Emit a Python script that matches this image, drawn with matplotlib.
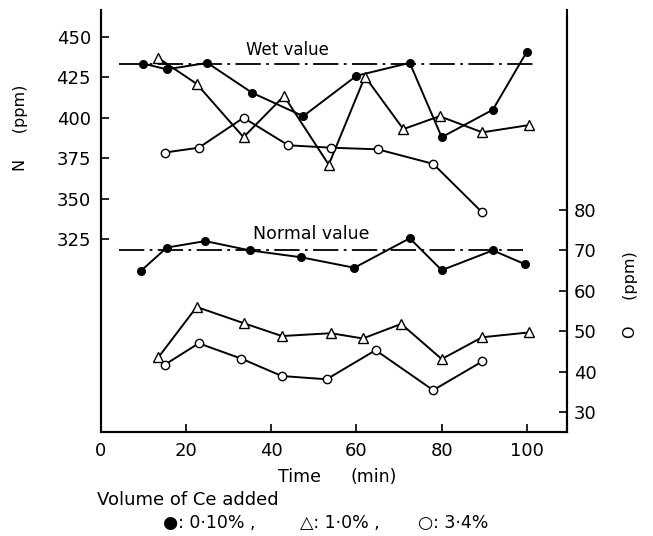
import matplotlib
matplotlib.use("Agg")
import matplotlib.pyplot as plt

# N (ppm), left axis
t_n_010 = [10, 15.5, 25, 35.5, 47.5, 60, 72.5, 80, 92, 100]
n_010 = [433.5, 430, 434, 415.5, 401, 426, 434, 388, 405, 441]
t_n_10 = [13.5, 22.5, 33.5, 43, 53.5, 62, 71, 79.5, 89.5, 100.5]
n_10 = [437, 421, 388, 413.5, 371, 425.5, 393, 401, 391, 395.5]
t_n_34 = [15, 23, 33.5, 44, 54, 65, 78, 89.5]
n_34 = [378.5, 381.5, 400, 383, 381.5, 380.5, 371.5, 341.5]

# O (ppm), right axis
t_o_010 = [9.5, 15.5, 24.5, 35, 47, 59.5, 72.5, 80, 92, 99.5]
o_010 = [65, 70.7, 72.3, 70, 68.3, 65.7, 73, 65.1, 70, 66.6]
t_o_10 = [13.5, 22.5, 33.5, 42.5, 54, 61.5, 70.5, 80, 89.5, 100.5]
o_10 = [43.5, 56, 52, 48.8, 49.5, 48.2, 51.8, 43.1, 48.5, 49.7]
t_o_34 = [15, 23, 33, 42.5, 53, 64.5, 78, 89.5]
o_34 = [41.7, 47, 43.2, 38.9, 38.1, 45.3, 35.4, 42.5]

wet_value = 433.3
normal_value = 70
x_ticks = [0, 20, 40, 60, 80, 100]
n_ticks = [325, 350, 375, 400, 425, 450]
o_ticks = [30, 40, 50, 60, 70, 80]

plt.rcParams['font.family'] = ['DejaVu Sans']
fig = plt.figure(figsize=(6.53, 5.36), dpi=100)
ax = fig.add_axes([100.75/653, 1-432/536, (567-100.75)/653, 422/536])
ax2 = ax.twinx()

ax.set_xlim(0, 109.4)
ax.set_ylim(205.6, 466.7)
ax2.set_ylim(25.05, 129.5)

lw = 1.4
ax.plot(t_n_010, n_010, '-o', color='black', lw=lw, ms=5.5, mfc='black')
ax.plot(t_n_10, n_10, '-^', color='black', lw=lw, ms=6.5, mfc='white', mew=1.0)
ax.plot(t_n_34, n_34, '-o', color='black', lw=lw, ms=6, mfc='white', mew=1.0)
ax2.plot(t_o_010, o_010, '-o', color='black', lw=lw, ms=5.5, mfc='black')
ax2.plot(t_o_10, o_10, '-^', color='black', lw=lw, ms=6.5, mfc='white', mew=1.0)
ax2.plot(t_o_34, o_34, '-o', color='black', lw=lw, ms=6, mfc='white', mew=1.0)

ax.plot([4.3, 101.9], [wet_value, wet_value], color='black', lw=1.3,
        linestyle=(0, (14, 3, 1.5, 3)), zorder=1)
ax2.plot([4.3, 99], [normal_value, normal_value], color='black', lw=1.3,
         linestyle=(0, (14, 3, 1.5, 3)), zorder=1)
ax.text(34.1, 442, 'Wet value', fontsize=12, va='center')
ax2.text(35.8, 74, 'Normal value', fontsize=12.5, va='center')

ax.set_xticks(x_ticks)
ax.set_yticks(n_ticks)
ax2.set_yticks(o_ticks)
for a in (ax, ax2):
    a.tick_params(direction='in', length=6, width=1.2, labelsize=13)
    a.spines['top'].set_visible(False)
    for s in a.spines.values():
        s.set_linewidth(1.5)
ax.tick_params(axis='x', pad=7)
ax.tick_params(axis='y', pad=7)
ax2.tick_params(axis='y', pad=5)
ax2.spines['right'].set_bounds(25.05, 127.8)

fig.text(21/653, 1-128/536, 'N     (ppm)', fontsize=11.5, rotation=90,
         ha='center', va='center')
fig.text(631/653, 1-295/536, 'O     (ppm)', fontsize=11.5, rotation=90,
         ha='center', va='center')
fig.text(278/653, 1-477/536, 'Time', fontsize=12.5, va='center')
fig.text(351/653, 1-477/536, '(min)', fontsize=12.5, va='center')

fig.text(97/653, 1-500/536, 'Volume of Ce added', fontsize=13, va='center')
fig.text(163/653, 1-523/536, '●: 0·10% ,', fontsize=12.5, va='center')
fig.text(300/653, 1-523/536, '△: 1·0% ,', fontsize=12.5, va='center')
fig.text(418/653, 1-523/536, '○: 3·4%', fontsize=12.5, va='center')

fig.savefig('out.png', dpi=100)
